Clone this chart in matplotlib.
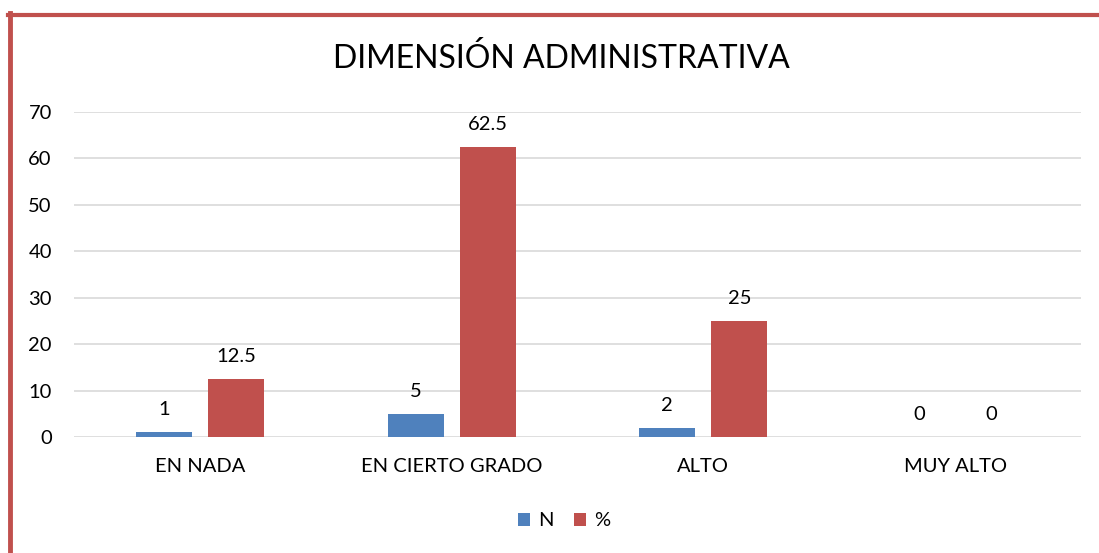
import matplotlib.pyplot as plt
import numpy as np

# Data
categories = ["EN NADA", "EN CIERTO GRADO", "ALTO", "MUY ALTO"]
n_values = [1, 5, 2, 0]
pct_values = [12.5, 62.5, 25, 0]
pct_labels = ["12.5", "62.5", "25", "0"]

plt.rcParams['font.family'] = ['Lato', 'DejaVu Sans']

fig = plt.figure(figsize=(10.99, 5.53), dpi=100)
ax = fig.add_axes([74 / 1099, 1 - 437 / 553, (1081 - 74) / 1099, (437 - 112) / 553])

x = np.arange(len(categories))
w = 0.222
off = 0.143
blue = "#4f81bd"
red = "#c0504d"

ax.bar(x - off, n_values, width=w, color=blue, label="N", zorder=3)
ax.bar(x + off, pct_values, width=w, color=red, label="%", zorder=3)

for xi, v in zip(x, n_values):
    ax.text(xi - off, v + 3, str(v), ha="center", va="bottom", fontsize=14.5)
for xi, v, lab in zip(x, pct_values, pct_labels):
    ax.text(xi + off, v + 3, lab, ha="center", va="bottom", fontsize=14.5)

ax.set_xlim(-0.5, 3.5)
ax.set_ylim(0, 70)
ax.set_yticks(range(0, 71, 10))
ax.set_xticks(x)
ax.set_xticklabels(categories)
ax.tick_params(axis="both", length=0, labelsize=14.5)
ax.tick_params(axis="x", pad=15)
ax.tick_params(axis="y", pad=16)
ax.grid(axis="y", color="#d9d9d9", linewidth=1.2, zorder=0)
for s in ax.spines.values():
    s.set_visible(False)

fig.text(561 / 1099, 1 - 58 / 553, "DIMENSIÓN ADMINISTRATIVA", ha="center", va="center", fontsize=23)

fig.legend(loc="center", bbox_to_anchor=(564 / 1099, 1 - 521 / 553), ncol=2, frameon=False,
           fontsize=14.5, handlelength=0.6, handleheight=0.6, columnspacing=1.0, handletextpad=0.4)

# red border (left and top)
fig.add_artist(plt.Line2D([10 / 1099, 10 / 1099], [0, 1 - 13 / 553], color=red, linewidth=3.5))
fig.add_artist(plt.Line2D([8 / 1099, 1], [1 - 14.5 / 553, 1 - 14.5 / 553], color=red, linewidth=3))

fig.savefig("out.png", dpi=100)
